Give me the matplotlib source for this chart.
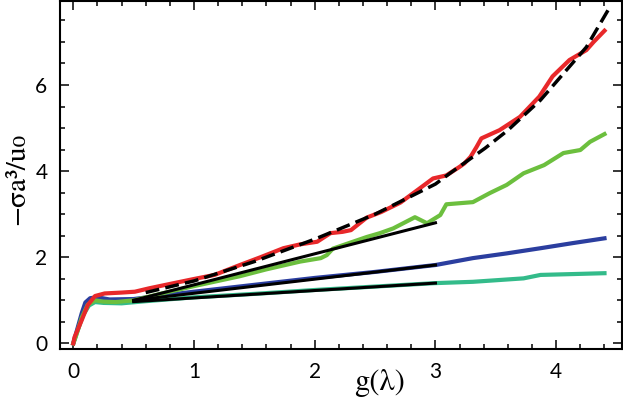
import matplotlib
matplotlib.use('Agg')
import matplotlib.pyplot as plt
from matplotlib.ticker import MultipleLocator

# curves
red_x = [0, 0.01, 0.07, 0.12, 0.18, 0.26, 0.4, 0.51, 0.63, 0.8, 0.99, 1.17, 1.38, 1.55, 1.74,
         1.88, 2.02, 2.13, 2.23, 2.3, 2.43, 2.55, 2.71, 2.87, 2.98, 3.09, 3.2, 3.24, 3.29, 3.34,
         3.38, 3.53, 3.70, 3.86, 3.97, 4.11, 4.25, 4.31, 4.40]
red_y = [0, 0.14, 0.54, 0.89, 1.1, 1.16, 1.18, 1.2, 1.28, 1.38, 1.49, 1.59, 1.82, 2.0, 2.21,
         2.3, 2.36, 2.56, 2.59, 2.63, 2.92, 3.05, 3.27, 3.6, 3.83, 3.9, 4.1, 4.18, 4.33, 4.56,
         4.76, 4.95, 5.26, 5.73, 6.2, 6.58, 6.81, 7.0, 7.26]

green_x = [0, 0.02, 0.07, 0.12, 0.18, 0.25, 0.35, 0.5, 0.6, 0.75, 1.0, 1.38, 1.6, 1.88, 2.05,
           2.1, 2.15, 2.43, 2.54, 2.65, 2.83, 2.93, 3.04, 3.09, 3.31, 3.45, 3.59, 3.73, 3.90,
           4.06, 4.20, 4.28, 4.40]
green_y = [0, 0.15, 0.6, 0.9, 1.0, 0.97, 0.96, 1.0, 1.07, 1.17, 1.33, 1.56, 1.72, 1.9, 1.98,
           2.05, 2.2, 2.47, 2.56, 2.67, 2.93, 2.79, 2.98, 3.23, 3.28, 3.49, 3.68, 3.95, 4.14,
           4.42, 4.49, 4.68, 4.86]

blue_x = [0, 0.03, 0.07, 0.1, 0.14, 0.2, 0.3, 0.5, 0.7, 1.0, 1.5, 2.0, 2.5, 3.0, 3.31, 3.59,
          3.87, 4.14, 4.40]
blue_y = [0, 0.3, 0.7, 0.95, 1.05, 1.07, 1.02, 1.03, 1.1, 1.2, 1.36, 1.52, 1.66, 1.82, 1.98,
          2.09, 2.21, 2.33, 2.44]

teal_x = [0, 0.03, 0.08, 0.13, 0.18, 0.25, 0.4, 0.6, 1.0, 1.5, 2.0, 2.5, 3.0, 3.31, 3.73, 3.87,
          4.14, 4.40]
teal_y = [0, 0.25, 0.65, 0.88, 0.96, 0.94, 0.93, 0.98, 1.07, 1.15, 1.24, 1.32, 1.40, 1.43,
          1.51, 1.59, 1.61, 1.63]

dash_x = [0.6, 1.0, 1.5, 2.0, 2.5, 3.0, 3.12, 3.41, 3.6, 3.87, 4.0, 4.25, 4.43]
dash_y = [1.18, 1.45, 1.90, 2.42, 3.0, 3.7, 3.95, 4.53, 4.95, 5.65, 6.07, 6.88, 7.74]

fit_x = [0.5, 3.0]
fit_y = [[1.0, 2.8], [1.0, 1.82], [0.97, 1.40]]

fig = plt.figure(figsize=(6.23, 3.99), dpi=100)
ax = fig.add_axes([60 / 623, 1 - 349 / 399, 562 / 623, 348 / 399])

ax.plot(teal_x, teal_y, color='#33bb8a', lw=3)
ax.plot(blue_x, blue_y, color='#2b3e9f', lw=3)
ax.plot(green_x, green_y, color='#6cbf3e', lw=3)
ax.plot(red_x, red_y, color='#e8282a', lw=3)
for fy in fit_y:
    ax.plot(fit_x, fy, color='black', lw=2.2)
ax.plot(dash_x, dash_y, color='black', lw=2.5, dashes=(4, 1.8))

ax.set_xlim(-0.11, 4.545)
ax.set_ylim(-0.13, 7.95)
ax.xaxis.set_major_locator(MultipleLocator(1))
ax.xaxis.set_minor_locator(MultipleLocator(0.2))
ax.yaxis.set_major_locator(MultipleLocator(2))
ax.yaxis.set_minor_locator(MultipleLocator(0.5))
ax.tick_params(which='both', direction='in', top=True, right=True, width=1.1,
               labelsize=15, pad=9)
ax.tick_params(which='major', length=6.5)
ax.tick_params(which='minor', length=3.5)
for lab in ax.get_xticklabels() + ax.get_yticklabels():
    lab.set_family('Lato')
for s in ax.spines.values():
    s.set_linewidth(1.5)

ax.text(0.569, -0.098, 'g(λ)', transform=ax.transAxes, ha='center', va='center',
        fontsize=22, family=['STIXGeneral', 'DejaVu Serif'])
ax.text(-0.075, 0.49, '−σa³/u₀', transform=ax.transAxes, ha='center', va='center',
        rotation=90, fontsize=21, family=['STIXGeneral', 'DejaVu Serif'])

fig.savefig('out.png', dpi=100)
